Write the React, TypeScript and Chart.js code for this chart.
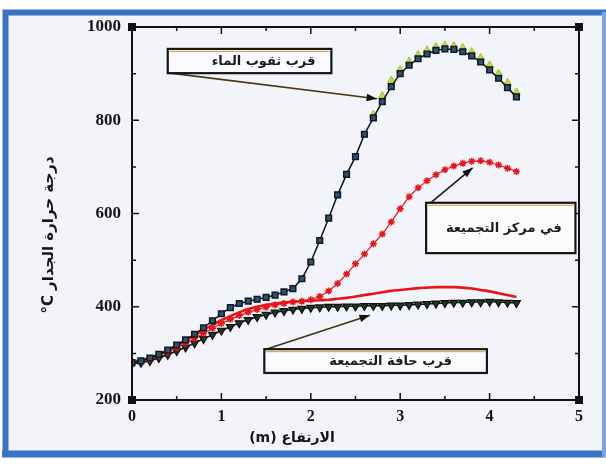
import { useEffect, useRef } from "react";
import { Chart, registerables } from "chart.js";

Chart.register(...registerables);

// Height along the wall (m)
const heights = [
  0, 0.1, 0.2, 0.3, 0.4, 0.5, 0.6, 0.7, 0.8, 0.9,
  1.0, 1.1, 1.2, 1.3, 1.4, 1.5, 1.6, 1.7, 1.8, 1.9,
  2.0, 2.1, 2.2, 2.3, 2.4, 2.5, 2.6, 2.7, 2.8, 2.9,
  3.0, 3.1, 3.2, 3.3, 3.4, 3.5, 3.6, 3.7, 3.8, 3.9,
  4.0, 4.1, 4.2, 4.3,
];

// Near the water holes (squares)
const nearHoles = [
  280, 284, 290, 298, 307, 318, 329, 341, 355, 370,
  385, 398, 407, 412, 416, 420, 425, 432, 439, 460,
  496, 542, 590, 640, 684, 722, 770, 805, 840, 872,
  900, 918, 932, 942, 950, 953, 952, 947, 938, 925,
  908, 890, 870, 850,
];

// Near the water holes, second run (green, visible near the peak)
const nearHoles2 = [
  null, null, null, null, null, null, null, null, null, null,
  null, null, null, null, null, null, null, null, null, null,
  null, null, null, null, null, null, null, 812, 852, 885,
  908, 926, 940, 950, 957, 960, 959, 955, 946, 934,
  918, 900, 880, 860,
];

// In the centre of the assembly (red crosses)
const centre = [
  280, 283, 288, 295, 303, 312, 322, 332, 343, 354,
  364, 373, 381, 388, 394, 399, 404, 407, 410, 412,
  415, 422, 434, 450, 470, 492, 513, 535, 556, 582,
  610, 636, 655, 670, 683, 694, 702, 708, 712, 713,
  710, 704, 697, 690,
];

// Centre, smooth red curve
const centreSmooth = [
  280, 284, 290, 298, 307, 317, 328, 339, 350, 361,
  371, 380, 388, 395, 400, 404, 407, 409, 411, 412,
  413, 414, 415, 417, 419, 422, 425, 428, 431, 434,
  436, 438, 440, 441, 442, 442, 442, 441, 439, 436,
  433, 429, 425, 421,
];

// Near the edge of the assembly (triangles)
const nearEdge = [
  278, 280, 284, 290, 297, 305, 313, 322, 331, 340,
  349, 357, 365, 372, 378, 383, 388, 391, 394, 396,
  398, 399, 400, 400, 401, 401, 402, 402, 402, 403,
  403, 404, 405, 406, 407, 408, 409, 409, 410, 410,
  411, 410, 409, 408,
];

const seriesNames = ["قرب ثقوب الماء", "قرب ثقوب الماء 2", "في مركز التجميعة", "في مركز التجميعة (منحنى)", "قرب حافة التجميعة"];

const yLabelTicks = [200, 400, 600, 800, 1000];
const xLabelTicks = [0, 1, 2, 3, 4, 5];

const yTitle = "°C درجة حرارة الجدار";
const xTitle = "(m) الارتفاع";

// Callout boxes (in data coordinates) and arrow tips
const callouts = [
  { text: "قرب ثقوب الماء", x0: 0.40, x1: 2.23, yTop: 953, yBot: 901, from: [0.43, 901], to: [2.74, 846], arrow: "#4a3418", shift: 14 },
  { text: "في مركز التجميعة", x0: 3.29, x1: 4.96, yTop: 623, yBot: 515, from: [3.34, 623], to: [3.81, 698], arrow: "#1a1a1a", shift: 3 },
  { text: "قرب حافة التجميعة", x0: 1.48, x1: 3.97, yTop: 309, yBot: 258, from: [1.50, 309], to: [2.66, 382], arrow: "#3e3418", shift: 15 },
];

const toPoints = (ys: (number | null)[]) =>
  heights.map((x, i) => ({ x, y: ys[i] })).filter((p) => p.y !== null);

const framePlugin = {
  id: "framePlugin",
  beforeDraw(chart: any) {
    const { ctx, width, height } = chart;
    ctx.save();
    ctx.fillStyle = "#ffffff";
    ctx.fillRect(0, 0, width, height);
    ctx.fillStyle = "#f3f4fa";
    ctx.fillRect(6, 12, 596, 441);
    ctx.strokeStyle = "#3a72c4";
    ctx.lineWidth = 6;
    ctx.beginPath();
    ctx.moveTo(5.5, 456);
    ctx.lineTo(5.5, 12.5);
    ctx.lineTo(width, 12.5);
    ctx.stroke();
    ctx.beginPath();
    ctx.lineWidth = 7;
    ctx.moveTo(2, 454);
    ctx.lineTo(width, 454);
    ctx.stroke();
    ctx.strokeStyle = "#7fa3dc";
    ctx.lineWidth = 4;
    ctx.beginPath();
    ctx.moveTo(604, 12);
    ctx.lineTo(604, 457);
    ctx.stroke();
    ctx.restore();
  },
  afterDraw(chart: any) {
    const { ctx, chartArea } = chart;
    const xs = chart.scales.x;
    const ys = chart.scales.y;
    const { left, right, top, bottom } = chartArea;
    ctx.save();
    // axes frame
    ctx.strokeStyle = "#111";
    ctx.lineWidth = 2;
    ctx.strokeRect(left, top, right - left, bottom - top);
    // ticks
    ctx.lineWidth = 1.5;
    ctx.beginPath();
    for (let v = 200; v <= 1000; v += 100) {
      const py = ys.getPixelForValue(v);
      const len = v % 200 === 0 ? 7 : 4;
      ctx.moveTo(left, py);
      ctx.lineTo(left + len, py);
      ctx.moveTo(right, py);
      ctx.lineTo(right - len, py);
    }
    for (let v = 0; v <= 5; v += 0.5) {
      const px = xs.getPixelForValue(v);
      const len = Number.isInteger(v) ? 7 : 4;
      ctx.moveTo(px, bottom);
      ctx.lineTo(px, bottom - len);
      ctx.moveTo(px, top);
      ctx.lineTo(px, top + len);
    }
    ctx.stroke();
    // corner squares
    ctx.fillStyle = "#111";
    for (const [cx, cy] of [[left, top], [right, top], [left, bottom], [right, bottom]]) {
      ctx.fillRect(cx - 4, cy - 4, 8, 8);
    }
    // callouts
    for (const c of callouts) {
      const bx0 = xs.getPixelForValue(c.x0);
      const bx1 = xs.getPixelForValue(c.x1);
      const by0 = ys.getPixelForValue(c.yTop);
      const by1 = ys.getPixelForValue(c.yBot);
      const fx = xs.getPixelForValue(c.from[0]);
      const fy = ys.getPixelForValue(c.from[1]);
      const tx = xs.getPixelForValue(c.to[0]);
      const ty = ys.getPixelForValue(c.to[1]);
      ctx.strokeStyle = c.arrow;
      ctx.lineWidth = 1.6;
      ctx.beginPath();
      ctx.moveTo(fx, fy);
      ctx.lineTo(tx, ty);
      ctx.stroke();
      const ang = Math.atan2(ty - fy, tx - fx);
      ctx.fillStyle = "#111";
      ctx.beginPath();
      ctx.moveTo(tx, ty);
      ctx.lineTo(tx - 11 * Math.cos(ang - 0.35), ty - 11 * Math.sin(ang - 0.35));
      ctx.lineTo(tx - 11 * Math.cos(ang + 0.35), ty - 11 * Math.sin(ang + 0.35));
      ctx.closePath();
      ctx.fill();
      ctx.fillStyle = "#fbfbfd";
      ctx.fillRect(bx0, by0, bx1 - bx0, by1 - by0);
      ctx.strokeStyle = "#151515";
      ctx.lineWidth = 2.2;
      ctx.strokeRect(bx0, by0, bx1 - bx0, by1 - by0);
      ctx.strokeStyle = "#d9963a";
      ctx.lineWidth = 1;
      ctx.beginPath();
      ctx.moveTo(bx0 + 2, by0 + 2.5);
      ctx.lineTo(bx1 - 2, by0 + 2.5);
      ctx.stroke();
      ctx.fillStyle = "#1c1c1c";
      ctx.font = "bold 13px 'DejaVu Sans'";
      ctx.textAlign = "center";
      ctx.textBaseline = "middle";
      ctx.fillText(c.text, (bx0 + bx1) / 2 + c.shift, (by0 + by1) / 2 + 1);
    }
    // axis titles
    ctx.fillStyle = "#151515";
    ctx.font = "bold 14px 'DejaVu Sans'";
    ctx.textAlign = "center";
    ctx.textBaseline = "middle";
    ctx.fillText(xTitle, 292, 438);
    ctx.save();
    ctx.translate(49, 235);
    ctx.rotate(-Math.PI / 2);
    ctx.font = "bold 15px 'DejaVu Sans'";
    ctx.fillText(yTitle, 0, 0);
    ctx.restore();
    ctx.restore();
  },
};

export default function App() {
  const ref = useRef<HTMLCanvasElement | null>(null);

  useEffect(() => {
    document.body.style.margin = "0";
    if (!ref.current) return;
    const chart = new Chart(ref.current, {
      type: "line",
      data: {
        datasets: [
          {
            label: seriesNames[0],
            data: toPoints(nearHoles),
            borderColor: "#111",
            borderWidth: 1.5,
            pointStyle: "rect",
            pointRadius: 4,
            pointBorderWidth: 1.5,
            pointBorderColor: "#0f1a22",
            pointBackgroundColor: "#2d5270",
            order: 1,
          },
          {
            label: seriesNames[1],
            data: toPoints(nearHoles2),
            showLine: false,
            pointStyle: "triangle",
            pointRadius: 4.5,
            pointBorderWidth: 1,
            pointBorderColor: "#a9bf2c",
            pointBackgroundColor: "#c6d846",
            order: 2,
          },
          {
            label: seriesNames[2],
            data: toPoints(centre),
            borderColor: "#e8141a",
            borderWidth: 1.2,
            pointStyle: "star",
            pointRadius: 3.5,
            pointBorderWidth: 1.5,
            pointBorderColor: "#e8141a",
            order: 3,
          },
          {
            label: seriesNames[3],
            data: toPoints(centreSmooth),
            borderColor: "#e81418",
            borderWidth: 2.6,
            pointRadius: 0,
            tension: 0.3,
            order: 4,
          },
          {
            label: seriesNames[4],
            data: toPoints(nearEdge),
            borderColor: "#111",
            borderWidth: 1.5,
            pointStyle: "triangle",
            rotation: 180,
            pointRadius: 4.5,
            pointBorderWidth: 1.3,
            pointBorderColor: "#111",
            pointBackgroundColor: "#1f3a22",
            order: 5,
          },
        ],
      },
      options: {
        animation: false,
        responsive: false,
        maintainAspectRatio: false,
        layout: { padding: { left: 0, right: 27, top: 27, bottom: 0 } },
        plugins: { legend: { display: false }, tooltip: { enabled: false } },
        scales: {
          x: {
            type: "linear",
            min: 0,
            max: 5,
            grid: { display: false, drawTicks: false },
            border: { display: false },
            afterBuildTicks: (s: any) => {
              s.ticks = xLabelTicks.map((v) => ({ value: v }));
            },
            afterFit: (s: any) => {
              s.height = 67;
            },
            ticks: {
              padding: 7,
              color: "#151515",
              font: { family: "'Liberation Serif'", weight: "bold", size: 16 },
              maxRotation: 0,
              callback: (v: any) => String(v),
            },
          },
          y: {
            type: "linear",
            min: 200,
            max: 1000,
            grid: { display: false, drawTicks: false },
            border: { display: false },
            afterBuildTicks: (s: any) => {
              s.ticks = yLabelTicks.map((v) => ({ value: v }));
            },
            afterFit: (s: any) => {
              s.width = 132;
            },
            ticks: {
              padding: 11,
              color: "#151515",
              font: { family: "'Liberation Serif'", weight: "bold", size: 17 },
              callback: (v: any) => String(v),
            },
          },
        },
      },
      plugins: [framePlugin],
    });
    return () => chart.destroy();
  }, []);

  return (
    <div style={{ position: "fixed", left: 0, top: 0, width: 606, height: 467 }}>
      <canvas ref={ref} width={606} height={467} style={{ width: 606, height: 467, display: "block" }} />
    </div>
  );
}
